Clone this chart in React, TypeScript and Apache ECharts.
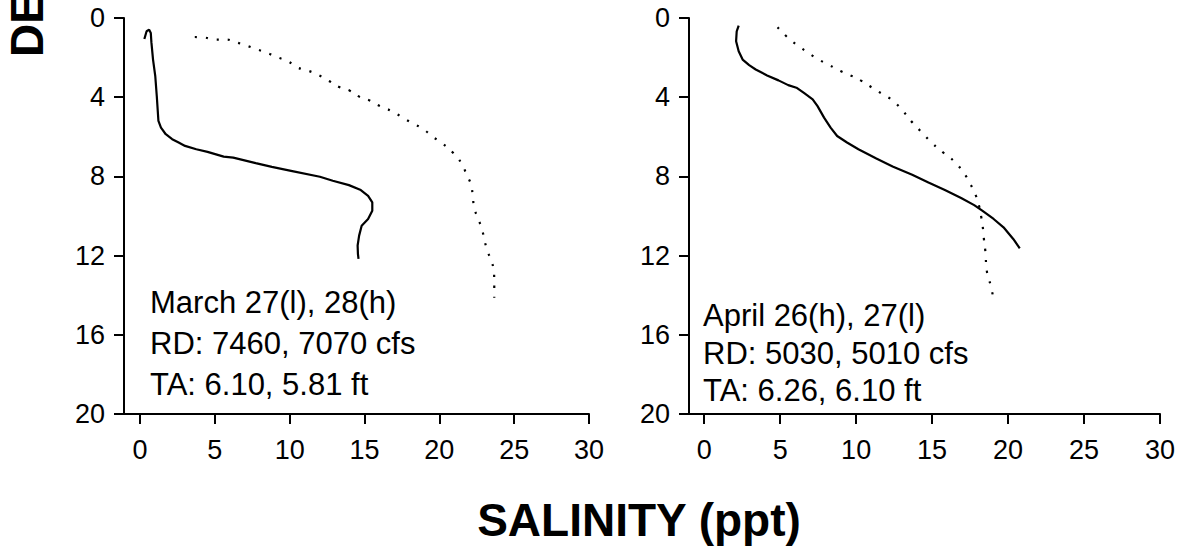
import React, { useEffect, useRef } from "react";
import * as echarts from "echarts";

// Axis ticks
const salinityTicks = [0, 5, 10, 15, 20, 25, 30];
const depthMin = 0;
const depthMax = 20;
const depthStep = 4;

// March profiles: salinity (ppt) against depth (ft)
const marchSolidSalinity = [0.29, 0.44, 0.61, 0.72, 0.76, 0.87, 1.02, 1.12, 1.23, 1.4, 1.72, 2.15, 2.58, 3.01, 3.76, 4.51, 5.59, 6.23, 7.73, 8.81, 10.09, 12.02, 12.88, 13.96, 14.71, 15.24, 15.52, 15.52, 15.24, 14.81, 14.64, 14.54, 14.56, 14.6];
const marchSolidDepth = [1.06, 0.67, 0.59, 0.76, 1.22, 2.1, 2.94, 3.94, 5.2, 5.54, 5.87, 6.12, 6.29, 6.46, 6.63, 6.76, 7.0, 7.05, 7.33, 7.52, 7.72, 8.02, 8.22, 8.44, 8.67, 8.98, 9.31, 9.73, 10.15, 10.49, 10.99, 11.49, 11.91, 12.16];
const marchDottedSalinity = [3.66, 4.34, 5.01, 5.74, 6.38, 7.05, 7.84, 8.48, 9.17, 9.86, 10.52, 11.27, 11.94, 12.6, 13.38, 14.02, 14.69, 15.39, 16.04, 16.81, 17.48, 18.14, 18.89, 19.54, 20.2, 20.95, 21.47, 21.83, 22.11, 22.24, 22.33, 22.6, 22.86, 23.01, 23.25, 23.51, 23.66, 23.67, 23.67];
const marchDottedDepth = [0.96, 0.99, 1.09, 1.09, 1.22, 1.38, 1.59, 1.76, 1.98, 2.18, 2.5, 2.67, 2.89, 3.17, 3.51, 3.67, 3.99, 4.18, 4.45, 4.7, 5.0, 5.29, 5.59, 5.99, 6.33, 6.83, 7.33, 7.92, 8.41, 9.03, 9.58, 10.15, 10.69, 11.22, 11.83, 12.33, 12.94, 13.54, 14.13];

// April profiles
const aprilSolidSalinity = [2.27, 2.14, 2.1, 2.27, 2.53, 2.96, 3.39, 4.14, 4.89, 5.53, 6.07, 6.61, 7.14, 7.46, 7.89, 8.32, 8.75, 9.4, 10.15, 11.33, 12.4, 13.69, 14.76, 15.84, 16.91, 17.77, 18.3, 19.05, 19.7, 20.34, 20.77];
const aprilSolidDepth = [0.39, 0.67, 1.17, 1.68, 2.1, 2.38, 2.6, 2.9, 3.15, 3.39, 3.52, 3.81, 4.11, 4.45, 5.03, 5.54, 5.96, 6.29, 6.63, 7.1, 7.5, 7.92, 8.31, 8.69, 9.09, 9.45, 9.73, 10.15, 10.57, 11.16, 11.63];
const aprilDottedSalinity = [4.83, 5.47, 6.14, 6.89, 7.56, 8.24, 8.97, 9.61, 10.38, 11.03, 11.67, 12.44, 13.09, 13.73, 14.38, 15.02, 15.79, 16.44, 17.08, 17.47, 17.86, 18.09, 18.24, 18.35, 18.41, 18.5, 18.62, 18.84, 19.01];
const aprilDottedDepth = [0.47, 0.97, 1.38, 1.78, 2.11, 2.38, 2.68, 2.89, 3.19, 3.51, 3.81, 4.19, 4.71, 5.3, 5.82, 6.33, 6.83, 7.23, 7.82, 8.32, 8.93, 9.48, 10.07, 10.65, 11.16, 11.74, 12.87, 13.46, 14.06];

// Panel notes
const marchNote = ["March 27(l), 28(h)", "RD: 7460, 7070 cfs", "TA: 6.10, 5.81 ft"];
const aprilNote = ["April 26(h), 27(l)", "RD: 5030, 5010 cfs", "TA: 6.26, 6.10 ft"];
const xTitle = "SALINITY (ppt)";
const yTitle = "DEPTH (ft)";

const FONT = "'Liberation Sans', Arial, Helvetica, sans-serif";

const zip = (xs: number[], ys: number[]) => xs.map((x, i) => [x, ys[i]]);

function xAxisFor(gridIndex: number, min: number) {
  return {
    type: "value",
    gridIndex,
    min,
    max: 30,
    position: "bottom",
    axisLine: { show: true, onZero: false, lineStyle: { color: "#000", width: 2 } },
    axisTick: {
      show: true,
      length: 10,
      customValues: salinityTicks,
      lineStyle: { color: "#000", width: 2 },
    },
    axisLabel: {
      customValues: salinityTicks,
      margin: 22,
      color: "#000",
      fontSize: 27,
      fontFamily: FONT,
    },
    splitLine: { show: false },
  };
}

function yAxisFor(gridIndex: number) {
  return {
    type: "value",
    gridIndex,
    inverse: true,
    min: depthMin,
    max: depthMax,
    interval: depthStep,
    axisLine: { show: true, onZero: false, lineStyle: { color: "#000", width: 2 } },
    axisTick: { show: true, length: 10, lineStyle: { color: "#000", width: 2 } },
    axisLabel: {
      margin: 19,
      color: "#000",
      fontSize: 27,
      fontFamily: FONT,
      showMinLabel: true,
      showMaxLabel: true,
    },
    splitLine: { show: false },
  };
}

function solid(xi: number, sal: number[], dep: number[]) {
  return {
    type: "line",
    xAxisIndex: xi,
    yAxisIndex: xi,
    data: zip(sal, dep),
    showSymbol: false,
    symbol: "none",
    smooth: false,
    lineStyle: { color: "#000", width: 2.2 },
  };
}

function dotted(xi: number, sal: number[], dep: number[]) {
  return {
    type: "line",
    xAxisIndex: xi,
    yAxisIndex: xi,
    data: zip(sal, dep),
    showSymbol: false,
    symbol: "none",
    smooth: true,
    lineStyle: { color: "#000", width: 2.2, type: [2.2, 8.8], cap: "butt" },
  };
}

export default function App() {
  const ref = useRef<HTMLDivElement>(null);

  useEffect(() => {
    if (!ref.current) return;
    const chart = echarts.init(ref.current, null, { renderer: "svg" });
    chart.setOption({
      animation: false,
      backgroundColor: "#fff",
      grid: [
        { left: 124, top: 18, width: 465, height: 396 },
        { left: 689, top: 18, width: 471, height: 396 },
      ],
      xAxis: [xAxisFor(0, -1.07), xAxisFor(1, -1.0)],
      yAxis: [yAxisFor(0), yAxisFor(1)],
      series: [
        solid(0, marchSolidSalinity, marchSolidDepth),
        dotted(0, marchDottedSalinity, marchDottedDepth),
        solid(1, aprilSolidSalinity, aprilSolidDepth),
        dotted(1, aprilDottedSalinity, aprilDottedDepth),
      ],
      graphic: [
        {
          type: "text",
          x: 150,
          y: 282,
          style: {
            text: marchNote.join("\n"),
            font: `31px ${FONT}`,
            lineHeight: 41,
            fill: "#000",
          },
        },
        {
          type: "text",
          x: 703,
          y: 297,
          style: {
            text: aprilNote.join("\n"),
            font: `31px ${FONT}`,
            lineHeight: 37.5,
            fill: "#000",
          },
        },
        {
          type: "text",
          x: 639,
          y: 520,
          style: {
            text: xTitle,
            font: `bold 46px ${FONT}`,
            align: "center",
            verticalAlign: "middle",
            fill: "#000",
          },
        },
        {
          type: "text",
          x: 27,
          y: 57,
          rotation: Math.PI / 2,
          style: {
            text: yTitle,
            font: `bold 46px ${FONT}`,
            align: "left",
            verticalAlign: "middle",
            fill: "#000",
          },
        },
      ],
    });
    return () => chart.dispose();
  }, []);

  return (
    <div
      ref={ref}
      style={{ position: "fixed", left: 0, top: 0, width: 1192, height: 552, background: "#fff" }}
    />
  );
}
